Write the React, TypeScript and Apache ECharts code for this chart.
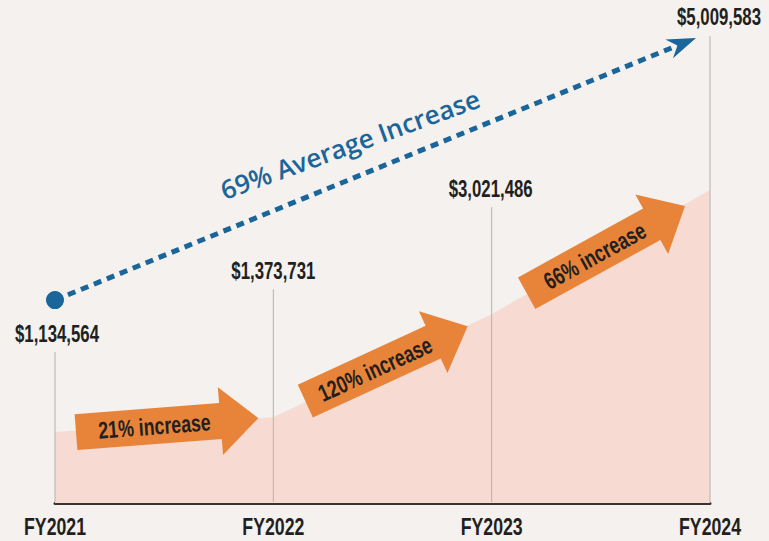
import React, { useEffect, useRef } from 'react';
import * as echarts from 'echarts';

const categories = ['FY2021', 'FY2022', 'FY2023', 'FY2024'];
const values = [1134564, 1373731, 3021486, 5009583];
const increaseLabels = ['21% increase', '120% increase', '66% increase'];
const averageLabel = '69% Average Increase';

const SANS = '"Liberation Sans", Arial, sans-serif';
const BG = '#f4f1ee';
const AREA = '#f7dad2';
const ORANGE = '#e8843a';
const BLUE = '#1a6599';
const DARK = '#231f20';

// layout offsets (pixels) relative to data points
const labelOffsets = [[2, -98], [0, -146], [-1, -125], [9, -173]];
const lineTopOffsets = [-80, -128, -107, -154];
const arrowOffsets = [
  { tail: [21, 0], tip: [-15, 1] },
  { tail: [32, -16], tip: [-24, 12] },
  { tail: [35, -21], tip: [-25, 16] },
];

function fmt(v: number) {
  return '$' + v.toLocaleString('en-US');
}

function narrowText(text: string, x: number, y: number, size: number, scale: number, extra: any = {}) {
  return {
    type: 'text',
    x,
    y,
    scaleX: scale,
    style: {
      text,
      font: `bold ${size}px ${SANS}`,
      fill: DARK,
      textAlign: 'center',
      textVerticalAlign: 'middle',
    },
    ...extra,
  };
}

export default function App() {
  const ref = useRef<HTMLDivElement>(null);
  useEffect(() => {
    document.body.style.margin = '0';
    const chart = echarts.init(ref.current!, null, { renderer: 'svg' });
    chart.setOption({
      animation: false,
      backgroundColor: BG,
      grid: { left: 55, right: 59, top: 3, bottom: 38 },
      xAxis: {
        type: 'category',
        data: categories,
        boundaryGap: false,
        axisLine: { lineStyle: { color: '#3a3435', width: 3 } },
        axisTick: { show: false },
        axisLabel: { show: false },
      },
      yAxis: { type: 'value', min: 0, max: 8000000, show: false, splitLine: { show: false } },
      series: [
        {
          type: 'line',
          data: values,
          symbol: 'none',
          lineStyle: { width: 0 },
          areaStyle: { color: AREA, opacity: 1 },
          z: 1,
        },
      ],
    });

    const pts = values.map((v, i) => chart.convertToPixel({ gridIndex: 0 }, [i, v]) as number[]);
    const baseY = (chart.convertToPixel({ gridIndex: 0 }, [0, 0]) as number[])[1];
    const els: any[] = [];

    // category labels (condensed look)
    pts.forEach((p, i) => {
      els.push(narrowText(categories[i], p[0], baseY + 24, 23, 0.77, { z: 6 }));
    });

    // vertical lines and value labels
    pts.forEach((p, i) => {
      els.push({
        type: 'line',
        shape: { x1: p[0], y1: p[1] + lineTopOffsets[i], x2: p[0], y2: baseY - 1 },
        style: { stroke: '#b5b2b0', lineWidth: 1 },
        z: 5,
      });
      els.push(narrowText(fmt(values[i]), p[0] + labelOffsets[i][0], p[1] + labelOffsets[i][1], 23, 0.73, { z: 6 }));
    });

    // orange arrows
    arrowOffsets.forEach((a, i) => {
      const p0 = pts[i];
      const p1 = pts[i + 1];
      const tail = [p0[0] + a.tail[0], p0[1] + a.tail[1]];
      const tip = [p1[0] + a.tip[0], p1[1] + a.tip[1]];
      const dx = tip[0] - tail[0];
      const dy = tip[1] - tail[1];
      const len = Math.hypot(dx, dy);
      const u = [dx / len, dy / len];
      const n = [-u[1], u[0]];
      const sh = 18;
      const hh = 34;
      const hl = 38;
      const neck = [tip[0] - u[0] * hl, tip[1] - u[1] * hl];
      const poly = [
        [tail[0] - n[0] * sh, tail[1] - n[1] * sh],
        [neck[0] - n[0] * sh, neck[1] - n[1] * sh],
        [neck[0] - n[0] * hh, neck[1] - n[1] * hh],
        tip,
        [neck[0] + n[0] * hh, neck[1] + n[1] * hh],
        [neck[0] + n[0] * sh, neck[1] + n[1] * sh],
        [tail[0] + n[0] * sh, tail[1] + n[1] * sh],
      ];
      els.push({ type: 'polygon', shape: { points: poly }, style: { fill: ORANGE }, z: 7 });
      const t = 0.43;
      els.push(
        narrowText(increaseLabels[i], tail[0] + dx * t, tail[1] + dy * t, 24, 0.74, {
          rotation: Math.atan2(-dy, dx),
          z: 8,
        })
      );
    });

    // average increase dotted arrow
    const start = [pts[0][0], pts[0][1] - 132];
    const end = [pts[3][0] - 14, pts[3][1] - 152];
    const ddx = end[0] - start[0];
    const ddy = end[1] - start[1];
    const dl = Math.hypot(ddx, ddy);
    const du = [ddx / dl, ddy / dl];
    const dn = [-du[1], du[0]];
    const back = [end[0] - du[0] * 29, end[1] - du[1] * 29];
    const notch = [end[0] - du[0] * 20, end[1] - du[1] * 20];
    els.push({
      type: 'line',
      shape: { x1: start[0], y1: start[1], x2: notch[0], y2: notch[1] },
      style: { stroke: BLUE, lineWidth: 5, lineDash: [8, 6] },
      z: 9,
    });
    els.push({
      type: 'polygon',
      shape: {
        points: [
          end,
          [back[0] + dn[0] * 10, back[1] + dn[1] * 10],
          notch,
          [back[0] - dn[0] * 10, back[1] - dn[1] * 10],
        ],
      },
      style: { fill: BLUE },
      z: 9,
    });
    els.push({ type: 'circle', shape: { cx: start[0], cy: start[1], r: 9 }, style: { fill: BLUE }, z: 10 });
    els.push({
      type: 'text',
      x: 350,
      y: 144,
      rotation: (20 * Math.PI) / 180,
      style: {
        text: averageLabel,
        font: `600 26px "Open Sans", sans-serif`,
        fill: BLUE,
        textAlign: 'center',
        textVerticalAlign: 'middle',
      },
      z: 10,
    });

    chart.setOption({ graphic: els });
    return () => chart.dispose();
  }, []);
  return <div ref={ref} style={{ width: 769, height: 541 }} />;
}
